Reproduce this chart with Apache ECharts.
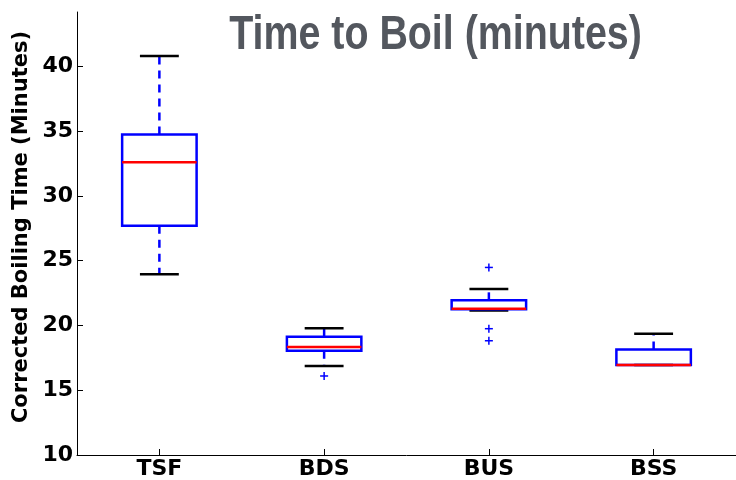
<!DOCTYPE html>
<html><head><meta charset="utf-8">
<script src="https://cdn.jsdelivr.net/npm/echarts@6/dist/echarts.min.js"></script>
<style>html,body{margin:0;padding:0;background:#fff}#c{width:736px;height:480px}</style>
</head><body><div id="c"></div>
<script>
const categories = ['TSF', 'BDS', 'BUS', 'BSS'];
const lowerWhisker = [23.95, 16.87, 21.15, 16.95];
const q1 = [27.7, 18.05, 21.25, 16.95];
const medians = [32.6, 18.33, 21.3, 16.95];
const q3 = [34.75, 19.13, 21.94, 18.15];
const upperWhisker = [40.8, 19.78, 22.81, 19.36];
const outlierCategory = ['BDS', 'BUS', 'BUS', 'BUS'];
const outlierValue = [16.1, 24.48, 19.75, 18.82];
const yTicks = [10, 15, 20, 25, 30, 35, 40];
const titleText = 'Time to Boil (minutes)';
const yAxisTitle = 'Corrected Boiling Time (Minutes)';

const boxData = categories.map((c, i) => [i, lowerWhisker[i], q1[i], medians[i], q3[i], upperWhisker[i]]);
const outlierData = outlierCategory.map((c, k) => [categories.indexOf(c), outlierValue[k]]);

const FONT = 'DejaVu Sans';
const chart = echarts.init(document.getElementById('c'), null, {renderer: 'canvas'});

function renderBox(params, api) {
  const i = api.value(0);
  const band = api.size([1, 0])[0];
  const boxHalf = band * 0.226, capHalf = band * 0.118;
  const x = api.coord([i, 0])[0];
  const yLow = api.coord([i, api.value(1)])[1];
  const yQ1 = api.coord([i, api.value(2)])[1];
  const yMed = api.coord([i, api.value(3)])[1];
  const yQ3 = api.coord([i, api.value(4)])[1];
  const yHigh = api.coord([i, api.value(5)])[1];
  const dash = {stroke: '#0000ff', lineWidth: 2.5, lineDash: [8, 6], fill: null};
  const cap = {stroke: '#000000', lineWidth: 2.5, fill: null};
  return {
    type: 'group',
    children: [
      {type: 'line', shape: {x1: x, y1: yQ3, x2: x, y2: yHigh}, style: dash},
      {type: 'line', shape: {x1: x, y1: yQ1, x2: x, y2: yLow}, style: dash},
      {type: 'line', shape: {x1: x - capHalf, y1: yHigh, x2: x + capHalf, y2: yHigh}, style: cap},
      {type: 'line', shape: {x1: x - capHalf, y1: yLow, x2: x + capHalf, y2: yLow}, style: cap},
      {type: 'rect', shape: {x: x - boxHalf, y: yQ3, width: 2 * boxHalf, height: yQ1 - yQ3},
        style: {stroke: '#0000ff', lineWidth: 2.5, fill: null}},
      {type: 'line', shape: {x1: x - boxHalf, y1: yMed, x2: x + boxHalf, y2: yMed},
        style: {stroke: '#ff0000', lineWidth: 2.5, fill: null}}
    ]
  };
}

function renderOutlier(params, api) {
  const p = api.coord([api.value(0), api.value(1)]);
  const h = 4;
  const st = {stroke: '#0000ff', lineWidth: 1.5, fill: null};
  return {
    type: 'group',
    children: [
      {type: 'line', shape: {x1: p[0] - h, y1: p[1], x2: p[0] + h, y2: p[1]}, style: st},
      {type: 'line', shape: {x1: p[0], y1: p[1] - h, x2: p[0], y2: p[1] + h}, style: st}
    ]
  };
}

chart.setOption({
  animation: false,
  backgroundColor: '#ffffff',
  grid: {left: 77, top: 12, width: 664, height: 443, containLabel: false},
  xAxis: {
    type: 'category', data: categories, boundaryGap: true,
    axisLine: {show: true, lineStyle: {color: '#000', width: 1}},
    axisTick: {show: true, inside: true, length: 6, alignWithLabel: true, lineStyle: {color: '#000'}},
    axisLabel: {fontSize: 22, fontWeight: 'bold', fontFamily: FONT, color: '#000', margin: 3},
    splitLine: {show: false}
  },
  yAxis: {
    type: 'value', min: 10, max: 44.2, interval: 5,
    axisLine: {show: true, lineStyle: {color: '#000', width: 1}},
    axisTick: {show: true, inside: true, length: 6, customValues: yTicks, lineStyle: {color: '#000'}},
    axisLabel: {fontSize: 22, fontWeight: 'bold', fontFamily: FONT, color: '#000', margin: 4, customValues: yTicks},
    splitLine: {show: false}
  },
  graphic: [
    {type: 'text', x: 435.5, y: 35.5, z: 10, scaleX: 0.82,
      style: {text: titleText, font: 'bold 48px "Liberation Sans", Arial, sans-serif',
        fill: '#53575e', textAlign: 'center', textVerticalAlign: 'middle'}},
    {type: 'text', x: 22, y: 227, rotation: Math.PI / 2, z: 10,
      style: {text: yAxisTitle, font: 'bold 21px "DejaVu Sans"', fill: '#000',
        textAlign: 'center', textVerticalAlign: 'middle'}}
  ],
  series: [
    {type: 'custom', data: boxData, renderItem: renderBox, encode: {x: 0, y: [1, 2, 3, 4, 5]}, clip: false},
    {type: 'custom', data: outlierData, renderItem: renderOutlier, encode: {x: 0, y: 1}, clip: false}
  ]
});
</script>
</body></html>
